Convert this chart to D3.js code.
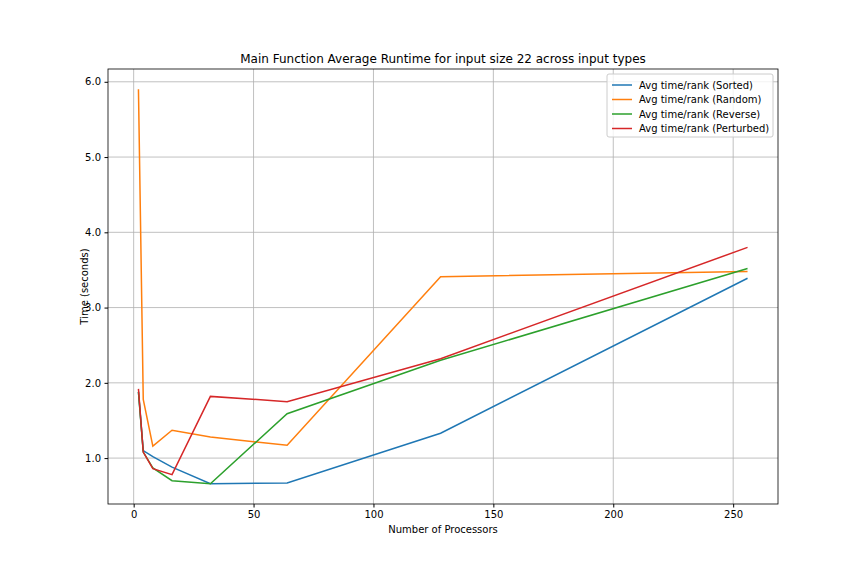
<!DOCTYPE html>
<meta charset="utf-8">
<script src="https://d3js.org/d3.v7.min.js"></script>
<style>body{margin:0;font-family:"DejaVu Sans",sans-serif}</style>
<div id="chart"></div>
<script>
// data
var procs = [2, 4, 8, 16, 32, 64, 128, 256];
var sorted = [1.88, 1.10, 1.02, 0.88, 0.66, 0.67, 1.33, 3.39];
var random = [5.90, 1.78, 1.16, 1.37, 1.28, 1.17, 3.41, 3.48];
var reverse = [1.88, 1.08, 0.87, 0.70, 0.66, 1.59, 2.30, 3.52];
var perturbed = [1.92, 1.08, 0.86, 0.78, 1.82, 1.75, 2.32, 3.80];
var names = ["Avg time/rank (Sorted)", "Avg time/rank (Random)", "Avg time/rank (Reverse)", "Avg time/rank (Perturbed)"];
var colors = ["#1f77b4", "#ff7f0e", "#2ca02c", "#d62728"];
var xTicks = [0, 50, 100, 150, 200, 250];
var yTicks = [1, 2, 3, 4, 5, 6];

var W = 864, H = 576, L = 108, R = 778, T = 69, B = 504;
var svg = d3.select("#chart").append("svg").attr("width", W).attr("height", H);

var x = d3.scaleLinear().domain([-10.7, 268.7]).range([L, R]);
var y = d3.scaleLinear().domain([0.39, 6.17]).range([B, T]);

// grid
svg.append("g").selectAll("line").data(xTicks).enter().append("line")
  .attr("x1", d => x(d)).attr("x2", d => x(d)).attr("y1", T).attr("y2", B)
  .attr("stroke", "#b0b0b0").attr("stroke-width", 0.8);
svg.append("g").selectAll("line").data(yTicks).enter().append("line")
  .attr("y1", d => y(d)).attr("y2", d => y(d)).attr("x1", L).attr("x2", R)
  .attr("stroke", "#b0b0b0").attr("stroke-width", 0.8);

// axes
var ax = svg.append("g").attr("transform", "translate(0," + B + ")")
  .call(d3.axisBottom(x).tickValues(xTicks).tickSize(3.5).tickPadding(3.5));
var ay = svg.append("g").attr("transform", "translate(" + L + ",0)")
  .call(d3.axisLeft(y).tickValues(yTicks).tickSize(3.5).tickPadding(3.5));
[ax, ay].forEach(function (a) {
  a.selectAll("text").attr("font-size", 10).attr("fill", "#000").attr("font-family", "DejaVu Sans");
  a.select(".domain").remove();
});
svg.append("rect").attr("x", L).attr("y", T).attr("width", R - L).attr("height", B - T)
  .attr("fill", "none").attr("stroke", "#000").attr("stroke-width", 0.8);

// lines
var line = d3.line().x((d, i) => x(procs[i])).y(d => y(d));
[sorted, random, reverse, perturbed].forEach(function (s, k) {
  svg.append("path").attr("d", line(s)).attr("fill", "none")
    .attr("stroke", colors[k]).attr("stroke-width", 1.5);
});

// labels
svg.append("text").attr("x", (L + R) / 2).attr("y", 63).attr("text-anchor", "middle")
  .attr("font-size", 12).text("Main Function Average Runtime for input size 22 across input types");
svg.append("text").attr("x", (L + R) / 2).attr("y", 533).attr("text-anchor", "middle")
  .attr("font-size", 10).text("Number of Processors");
svg.append("text").attr("transform", "translate(88," + (T + B) / 2 + ") rotate(-90)")
  .attr("text-anchor", "middle").attr("font-size", 10).text("Time (seconds)");

// legend
var lg = svg.append("g").attr("transform", "translate(607,74)");
lg.append("rect").attr("width", 166).attr("height", 63).attr("rx", 2)
  .attr("fill", "#fff").attr("fill-opacity", 0.8).attr("stroke", "#ccc");
names.forEach(function (n, i) {
  var yy = 11 + i * 14.5;
  lg.append("line").attr("x1", 5).attr("x2", 25).attr("y1", yy).attr("y2", yy)
    .attr("stroke", colors[i]).attr("stroke-width", 1.5);
  lg.append("text").attr("x", 32).attr("y", yy + 3.5).attr("font-size", 10).text(n);
});
</script>
